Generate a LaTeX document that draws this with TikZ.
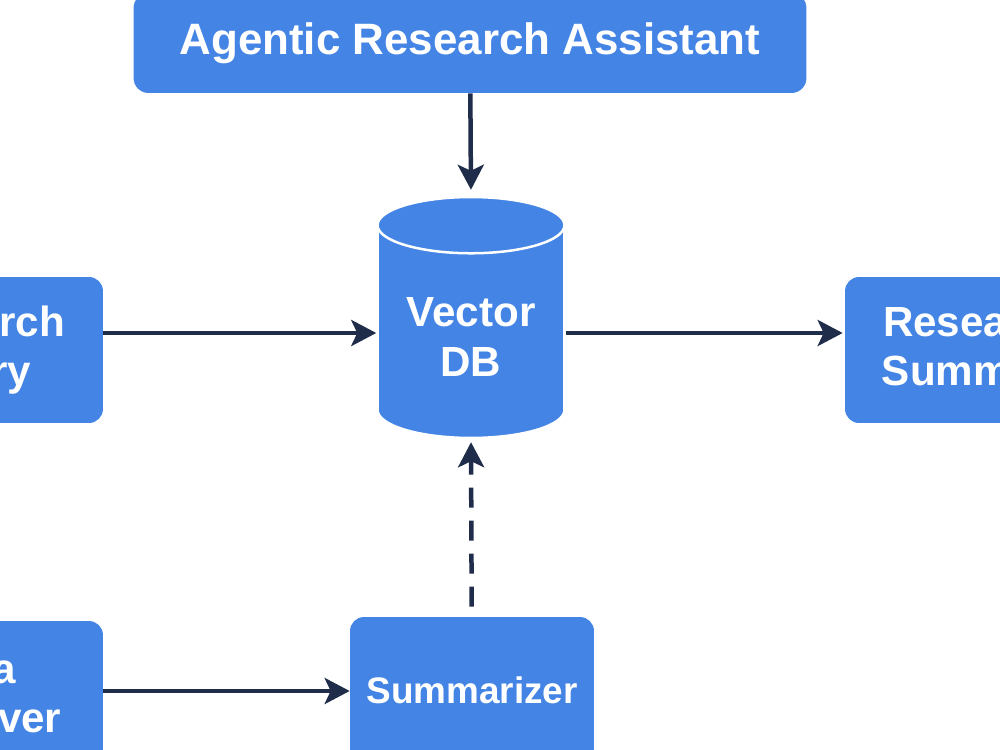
\documentclass[tikz,border=0pt]{standalone}
\usepackage{fontspec}
\setmainfont{Liberation Sans}
\usepackage{tikz}
\usetikzlibrary{arrows.meta, positioning, shapes.geometric}
\definecolor{nodeblue}{RGB}{67,132,229}
\definecolor{arrowdark}{RGB}{31,45,74}

\begin{document}
\begin{tikzpicture}[
        x=0.02cm, y=-0.02cm,
        box/.style = {rectangle, rounded corners=0.28cm, fill=nodeblue, text=white, align=center, font=\fontsize{24}{28}\selectfont\bfseries, minimum width=5.32cm, minimum height=2.92cm},
        dbcyl/.style = {cylinder, shape border rotate=90, aspect=0.4, fill=nodeblue, draw=white, line width=0.05cm, text=white, align=center, font=\fontsize{24}{28.5}\selectfont\bfseries, minimum width=3.74cm, minimum height=4.82cm},
        arrow/.style = {draw=arrowdark, line width=0.09cm, -{Stealth[length=0.5cm, width=0.52cm, inset=0.12cm]}},
        dasharrow/.style = {arrow, dash pattern=on 0.4cm off 0.26cm}
    ]

        \useasboundingbox (0,0) rectangle (1000,750);
        \clip (0,0) rectangle (1000,750);

        \node (title) [box, minimum width=13.46cm, minimum height=2.0cm, rounded corners=0.3cm, font=\fontsize{25}{30}\selectfont\bfseries] at (470,43) {Agentic Research Assistant};
        \node (db) [dbcyl, anchor=shape center] at (471,317.5) {Vector\\DB};
        \node (query) [box] at (-30,350) {Research\\Query};
        \node (summary) [box] at (978,350) {Research\\Summary};
        \node (retriever) [box] at (-30,694) {Data\\Retriever};
        \node (summarizer) [box, minimum width=4.88cm, font=\fontsize{21}{26}\selectfont\bfseries] at (472,690) {Summarizer};

        \draw [arrow, shorten >=0.12cm] (title) -- (db.north);
        \draw [arrow] ([yshift=0.34cm]query.east) -- ([yshift=0.34cm]query.east -| db.west);
        \draw [arrow, shorten >=0.04cm] ([yshift=0.34cm]summary.west -| db.east) -- ([yshift=0.34cm]summary.west);
        \draw [dasharrow, shorten <=0.2cm, shorten >=0.06cm] (summarizer) -- (db.south);
        \draw [arrow] ([yshift=0.06cm]retriever.east) -- ([yshift=0.06cm]retriever.east -| summarizer.west);

    \end{tikzpicture}
\end{document}
